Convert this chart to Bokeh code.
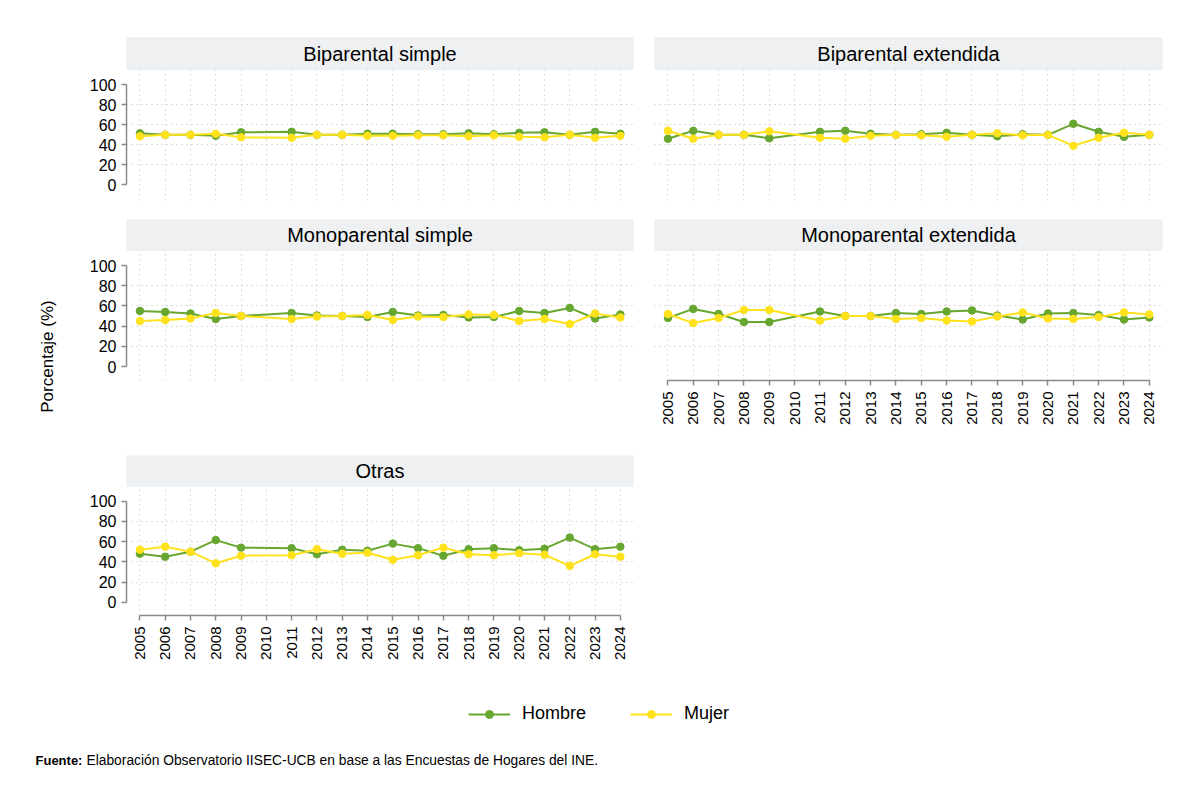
import math
from bokeh.plotting import figure
from bokeh.models import (Range1d, FixedTicker, BoxAnnotation, Label, Legend,
                          LegendItem, Spacer)
from bokeh.layouts import row, column
from bokeh.embed import file_html
from bokeh.resources import INLINE
from bokeh.core.properties import value

# ---------------- data ----------------
years = [2005, 2006, 2007, 2008, 2009, 2011, 2012, 2013, 2014, 2015,
         2016, 2017, 2018, 2019, 2020, 2021, 2022, 2023, 2024]
year_ticks = list(range(2005, 2025))
y_ticks = [0, 20, 40, 60, 80, 100]
grid_y_ticks = [20, 40, 60, 80]

panel_titles = ["Biparental simple", "Biparental extendida",
                "Monoparental simple", "Monoparental extendida", "Otras"]

hombre_bs = [51.5, 50, 50, 49, 52.5, 53, 50, 50, 51, 51, 50.5, 50.5, 51.5, 50.5, 52, 52.5, 50, 53, 51]
mujer_bs = [48.5, 50, 50, 51, 47.5, 47, 50, 50, 49, 49, 49.5, 49.5, 48.5, 49.5, 48, 47.5, 50, 47, 49]

hombre_be = [46, 54, 50, 50, 46.5, 53, 54, 51, 50, 50.5, 52, 50, 48.5, 50.5, 50, 61, 53, 48, 50]
mujer_be = [54, 46, 50, 50, 53.5, 47, 46, 49, 50, 49.5, 48, 50, 51.5, 49.5, 50, 39, 47, 52, 50]

hombre_ms = [55, 54, 52.5, 47, 50, 53, 50.5, 50, 49, 54, 50.5, 51, 48.5, 49, 55, 53, 58, 47.5, 51.5]
mujer_ms = [45, 46, 47.5, 53, 50, 47, 49.5, 50, 51, 46, 49.5, 49, 51.5, 51, 45, 47, 42, 52.5, 48.5]

hombre_me = [48, 57, 52, 44, 44, 54.5, 50, 50, 53, 52, 54.5, 55.5, 50.5, 46.5, 52.5, 53, 51, 46.5, 48.5]
mujer_me = [52, 43, 48, 56, 56, 45.5, 50, 50, 47, 48, 45.5, 44.5, 49.5, 53.5, 47.5, 47, 49, 53.5, 51.5]

hombre_ot = [48, 45, 50, 61.5, 54, 53.5, 47.5, 52, 51, 58, 53.5, 46, 52.5, 53.5, 51.5, 53, 64, 52.5, 55]
mujer_ot = [52, 55, 50, 38.5, 46, 46.5, 52.5, 48, 49, 42, 46.5, 54, 47.5, 46.5, 48.5, 47, 36, 47.5, 45]

series_labels = ["Hombre", "Mujer"]

# ---------------- style ----------------
GREEN = "#67a72f"
YELLOW = "#ffe21c"
FONT = "Liberation Sans"
AXIS_COLOR = "#8a8a8a"
GRID_COLOR = "#bdbdbd"
STRIP_FILL = "#eef0f2"
STRIP_LINE = "#d3e3ed"


def y_range_for(y100_px, ppu, frame_top_px, frame_bottom_px):
    top = 100 + (y100_px - frame_top_px) / ppu
    bottom = 100 - (frame_bottom_px - y100_px) / ppu
    return bottom, top


def make_panel(title, hombre, mujer, show_y, show_x, width, height,
               bl, br, bt, bb, yr, strip_bottom):
    p = figure(width=width, height=height,
               x_range=Range1d(2004.47, 2024.52),
               y_range=Range1d(yr[0], yr[1]),
               output_backend="svg", toolbar_location=None,
               x_axis_location="below" if show_x else None,
               y_axis_location="left" if show_y else None,
               min_border_left=bl, min_border_right=br,
               min_border_top=bt, min_border_bottom=bb)
    p.outline_line_color = None
    p.background_fill_color = "white"
    p.border_fill_color = "white"

    p.xgrid.ticker = FixedTicker(ticks=year_ticks)
    p.ygrid.ticker = FixedTicker(ticks=grid_y_ticks)
    for g in (p.xgrid, p.ygrid):
        g.grid_line_color = GRID_COLOR
        g.grid_line_dash = "1 4"
        g.grid_line_width = 1

    if show_y:
        ax = p.yaxis[0]
        ax.ticker = FixedTicker(ticks=y_ticks)
        ax.bounds = (0, 100)
        ax.axis_line_color = AXIS_COLOR
        ax.axis_line_width = 1.5
        ax.major_tick_line_color = AXIS_COLOR
        ax.major_tick_line_width = 1.5
        ax.major_tick_out = 5
        ax.major_tick_in = 0
        ax.minor_tick_line_color = None
        ax.major_label_text_font = FONT
        ax.major_label_text_font_size = "16px"
        ax.major_label_text_color = "black"
        ax.major_label_standoff = 5
    if show_x:
        ax = p.xaxis[0]
        ax.ticker = FixedTicker(ticks=year_ticks)
        ax.bounds = (2005, 2024)
        ax.axis_line_color = AXIS_COLOR
        ax.axis_line_width = 1.5
        ax.major_tick_line_color = AXIS_COLOR
        ax.major_tick_line_width = 1.5
        ax.major_tick_out = 5
        ax.major_tick_in = 0
        ax.minor_tick_line_color = None
        ax.major_label_orientation = math.pi / 2
        ax.major_label_text_font = FONT
        ax.major_label_text_font_size = "15px"
        ax.major_label_text_color = "black"
        ax.major_label_standoff = 6

    strip = BoxAnnotation(bottom=strip_bottom, fill_color=STRIP_FILL, fill_alpha=1,
                          line_color=STRIP_LINE, line_width=1.5)
    p.add_layout(strip)
    p.add_layout(Label(x=(2004.47 + 2024.52) / 2, y=(strip_bottom + yr[1]) / 2,
                       text=title, text_align="center", text_baseline="middle",
                       text_font=FONT, text_font_size="20px", text_color="black"))

    p.line(years, hombre, line_color=GREEN, line_width=2)
    p.scatter(years, hombre, size=7.5, fill_color=GREEN, line_color=GREEN)
    p.line(years, mujer, line_color=YELLOW, line_width=2)
    p.scatter(years, mujer, size=7.5, fill_color=YELLOW, line_color=YELLOW)
    return p


# row geometry (page pixels)
r1 = y_range_for(84.3, 1.0, 37, 200)
r2 = y_range_for(265, 1.01, 219, 380)
r3 = y_range_for(500.7, 1.01, 455, 615)

p1 = make_panel(panel_titles[0], hombre_bs, mujer_bs, True, False, 560, 205, 46, 7, 37, 5, r1, 115.3)
p2 = make_panel(panel_titles[1], hombre_be, mujer_be, False, False, 560, 205, 14, 38, 37, 5, r1, 115.3)
p3 = make_panel(panel_titles[2], hombre_ms, mujer_ms, True, False, 560, 235, 46, 7, 14, 60, r2, 115.0)
p4 = make_panel(panel_titles[3], hombre_me, mujer_me, False, True, 560, 235, 14, 38, 14, 60, r2, 115.0)
p5 = make_panel(panel_titles[4], hombre_ot, mujer_ot, True, True, 560, 240, 46, 7, 15, 65, r3, 114.7)

# left label figure
lab = figure(width=80, height=680, x_range=Range1d(0, 80), y_range=Range1d(0, 680),
             output_backend="svg", toolbar_location=None,
             x_axis_location=None, y_axis_location=None, min_border=0)
lab.outline_line_color = None
lab.grid.visible = False
lab.text(x=[47], y=[680 - 356], text=["Porcentaje (%)"], angle=math.pi / 2,
         text_align="center", text_baseline="middle",
         text_font=value(FONT), text_font_size="17px", text_color="black")

# bottom figure: legend + source note (series renderers lie outside this frame's range,
# they only feed the legend keys)
bot = figure(width=1200, height=121, x_range=Range1d(0, 1200), y_range=Range1d(0, 121),
             output_backend="svg", toolbar_location=None,
             x_axis_location=None, y_axis_location=None, min_border=0)
bot.outline_line_color = None
bot.grid.visible = False
lh = bot.line(years, hombre_ot, line_color=GREEN, line_width=2)
sh = bot.scatter(years, hombre_ot, size=7.5, fill_color=GREEN, line_color=GREEN)
lm = bot.line(years, mujer_ot, line_color=YELLOW, line_width=2)
sm = bot.scatter(years, mujer_ot, size=7.5, fill_color=YELLOW, line_color=YELLOW)
leg = Legend(items=[LegendItem(label=series_labels[0], renderers=[lh, sh]),
                    LegendItem(label=series_labels[1], renderers=[lm, sm])],
             orientation="horizontal", location=(468, 77),
             glyph_width=42, glyph_height=20, label_standoff=12, spacing=44,
             label_text_font=FONT, label_text_font_size="18px",
             label_text_color="black", border_line_color=None,
             background_fill_alpha=0, padding=0, margin=0)
bot.add_layout(leg, "center")
bot.text(x=[35], y=[121 - 80], text=["Fuente:"], text_align="left", text_baseline="middle",
         text_font=value(FONT), text_font_size="13px", text_font_style="bold",
         text_color="black")
bot.text(x=[86], y=[121 - 80], text=["Elaboración Observatorio IISEC-UCB en base a las Encuestas de Hogares del INE."],
         text_align="left", text_baseline="middle",
         text_font=value(FONT), text_font_size="13.8px", text_color="black")

grid_block = column(row(p1, p2), row(p3, p4), row(p5, Spacer(width=560, height=240)))
layout = column(row(lab, grid_block), bot)

open("out.html", "w").write(file_html(layout, INLINE))
